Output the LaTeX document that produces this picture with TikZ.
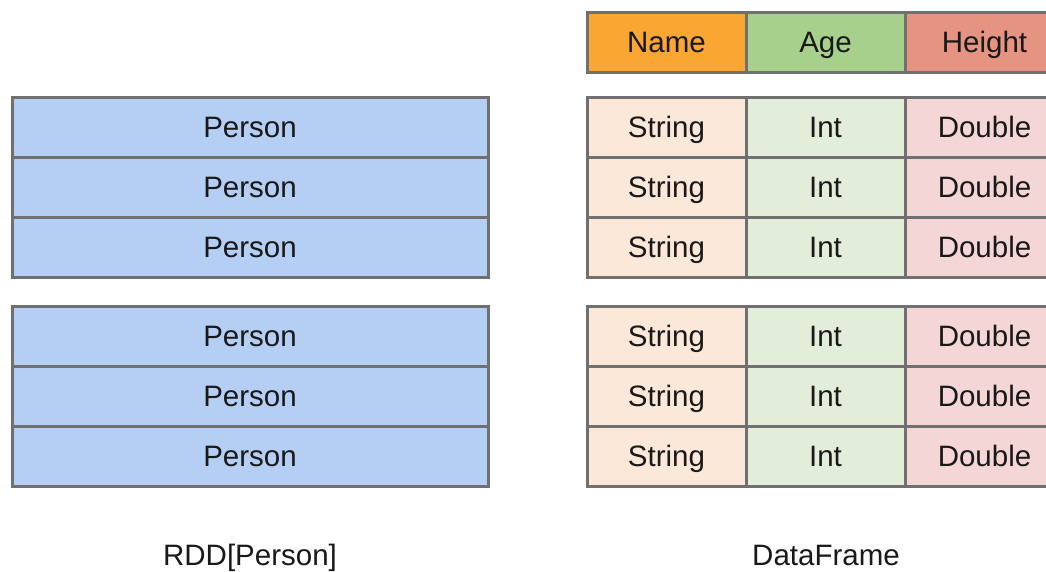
\documentclass[tikz,border=0pt]{standalone}
\usepackage{fontspec}
\setmainfont{Liberation Sans}
\definecolor{lineg}{HTML}{707070}
\definecolor{pblue}{HTML}{B4CFF3}
\definecolor{hname}{HTML}{F9A732}
\definecolor{hage}{HTML}{A8D08D}
\definecolor{hheight}{HTML}{E59482}
\definecolor{cstr}{HTML}{FCE8D8}
\definecolor{cint}{HTML}{E2EEDA}
\definecolor{cdbl}{HTML}{F5D6D6}
\tikzset{
  cell/.style={draw=lineg, line width=3pt, inner sep=0pt, outer sep=0pt,
    minimum height=60pt, text height=21pt, text depth=0pt,
    font=\fontsize{29.5}{31}\selectfont, text=black!90},
  pcell/.style={cell, fill=pblue, minimum width=476pt},
  dcell/.style={cell, minimum width=159pt},
  caption/.style={font=\fontsize{29.5}{31}\selectfont, text=black!90,
    text height=21pt, text depth=0pt}
}
\begin{document}
\begin{tikzpicture}[x=1pt,y=-1pt]
\clip (0,0) rectangle (1046,571);
\fill[white] (0,0) rectangle (1046,571);
% RDD
\foreach \y/\n in {127/1,187/2,247/3,336/4,396/5,456/6}{
  \node[pcell] (p\n) at (250,\y) {Person};
}
% header
\node[dcell, fill=hname] (hname) at (666.5,42) {Name};
\node[dcell, fill=hage] (hage) at (825.5,42) {Age};
\node[dcell, fill=hheight] (hheight) at (984.5,42) {Height};
% data
\foreach \y/\n in {127/1,187/2,247/3,336/4,396/5,456/6}{
  \node[dcell, fill=cstr] (s\n) at (666.5,\y) {String};
  \node[dcell, fill=cint] (i\n) at (825.5,\y) {Int};
  \node[dcell, fill=cdbl] (d\n) at (984.5,\y) {Double};
}
\node[caption] (rdd) at (250,555) {RDD[Person]};
\node[caption] (df) at (826,555) {DataFrame};
\end{tikzpicture}
\end{document}
